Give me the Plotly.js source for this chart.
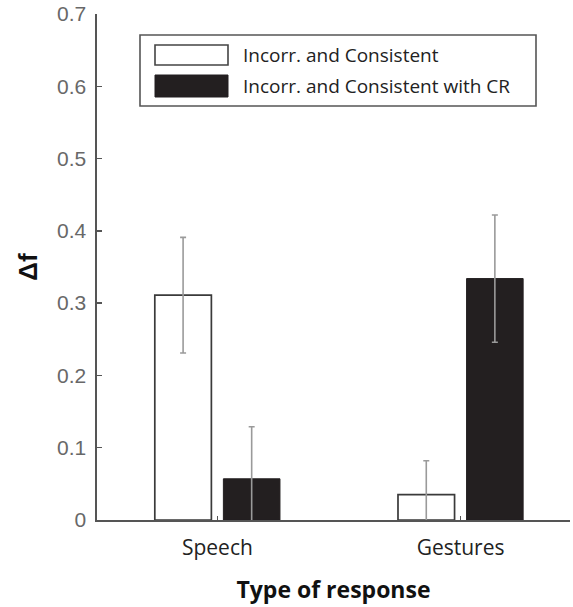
<!DOCTYPE html>
<html>
<head>
<meta charset="utf-8">
<script src="https://cdn.plot.ly/plotly-3.0.1.min.js"></script>
<style>html,body{margin:0;padding:0;background:#fff;}#chart{width:573px;height:607px;}</style>
</head>
<body>
<div id="chart"></div>
<script>
var categories = ["Speech", "Gestures"];
var seriesNames = ["Incorr. and Consistent", "Incorr. and Consistent with CR"];
var consistent = [0.311, 0.035];
var consistentErr = [0.080, 0.047];
var consistentCR = [0.057, 0.334];
var consistentCRErr = [0.072, 0.088];
var yTicks = [0, 0.1, 0.2, 0.3, 0.4, 0.5, 0.6, 0.7];
var yTickLabels = ["0", "0.1", "0.2", "0.3", "0.4", "0.5", "0.6", "0.7"];

var traces = [
  {
    type: "bar", name: seriesNames[0], x: categories, y: consistent,
    marker: {color: "#ffffff", line: {color: "#3a3a3a", width: 1.7}},
    error_y: {type: "data", array: consistentErr, visible: true, color: "#9a9a9a", thickness: 1.6, width: 3},
    showlegend: false, cliponaxis: true
  },
  {
    type: "bar", name: seriesNames[1], x: categories, y: consistentCR,
    marker: {color: "#231f20", line: {color: "#231f20", width: 1}},
    error_y: {type: "data", array: consistentCRErr, visible: true, color: "#9a9a9a", thickness: 1.6, width: 3},
    showlegend: false, cliponaxis: true
  }
];

var layout = {
  width: 573, height: 607,
  margin: {l: 97, r: 3, t: 14, b: 87},
  paper_bgcolor: "#ffffff", plot_bgcolor: "#ffffff",
  barmode: "group", bargap: 0.436, bargroupgap: 0.175,
  showlegend: false,
  xaxis: {
    type: "category", range: [-0.495, 1.45],
    showline: true, linecolor: "#555555", linewidth: 1.6,
    ticks: "inside", ticklen: 4, tickcolor: "#555555", tickwidth: 1.2,
    showgrid: false, zeroline: false,
    tickfont: {family: "Open Sans", size: 21, color: "#222222"},
    ticklabelstandoff: 8,
    title: {text: "<b>Type of response</b>", font: {family: "Open Sans", size: 23, color: "#111111"}, standoff: 22}
  },
  yaxis: {
    range: [0, 0.7],
    tickvals: yTicks, ticktext: yTickLabels,
    showline: true, linecolor: "#555555", linewidth: 1.6,
    ticks: "inside", ticklen: 5, tickcolor: "#555555", tickwidth: 1.4,
    showgrid: false, zeroline: false,
    tickfont: {family: "Liberation Sans, Arial", size: 21, color: "#686868"},
    ticklabelstandoff: 5,
    title: {text: "<b>Δf</b>", font: {family: "Liberation Sans, Arial", size: 26, color: "#111111"}, standoff: 12}
  },
  shapes: [
    {type: "rect", xref: "paper", yref: "paper", x0: (140-97)/473, x1: (536-97)/473, y0: (520-106)/506, y1: (520-35)/506,
     line: {color: "#555555", width: 1.6}, fillcolor: "#ffffff"},
    {type: "rect", xref: "paper", yref: "paper", x0: (155-97)/473, x1: (228-97)/473, y0: (520-65)/506, y1: (520-45)/506,
     line: {color: "#444444", width: 1.6}, fillcolor: "#ffffff"},
    {type: "rect", xref: "paper", yref: "paper", x0: (155-97)/473, x1: (228-97)/473, y0: (520-97)/506, y1: (520-75)/506,
     line: {color: "#231f20", width: 1}, fillcolor: "#231f20"}
  ],
  annotations: [
    {xref: "paper", yref: "paper", x: (241-97)/473, y: (520-55)/506, xanchor: "left", yanchor: "middle",
     text: seriesNames[0], showarrow: false, font: {family: "Open Sans", size: 19, color: "#222222"}},
    {xref: "paper", yref: "paper", x: (241-97)/473, y: (520-86)/506, xanchor: "left", yanchor: "middle",
     text: seriesNames[1], showarrow: false, font: {family: "Open Sans", size: 19, color: "#222222"}}
  ]
};

Plotly.newPlot("chart", traces, layout, {displayModeBar: false, staticPlot: true});
</script>
</body>
</html>
